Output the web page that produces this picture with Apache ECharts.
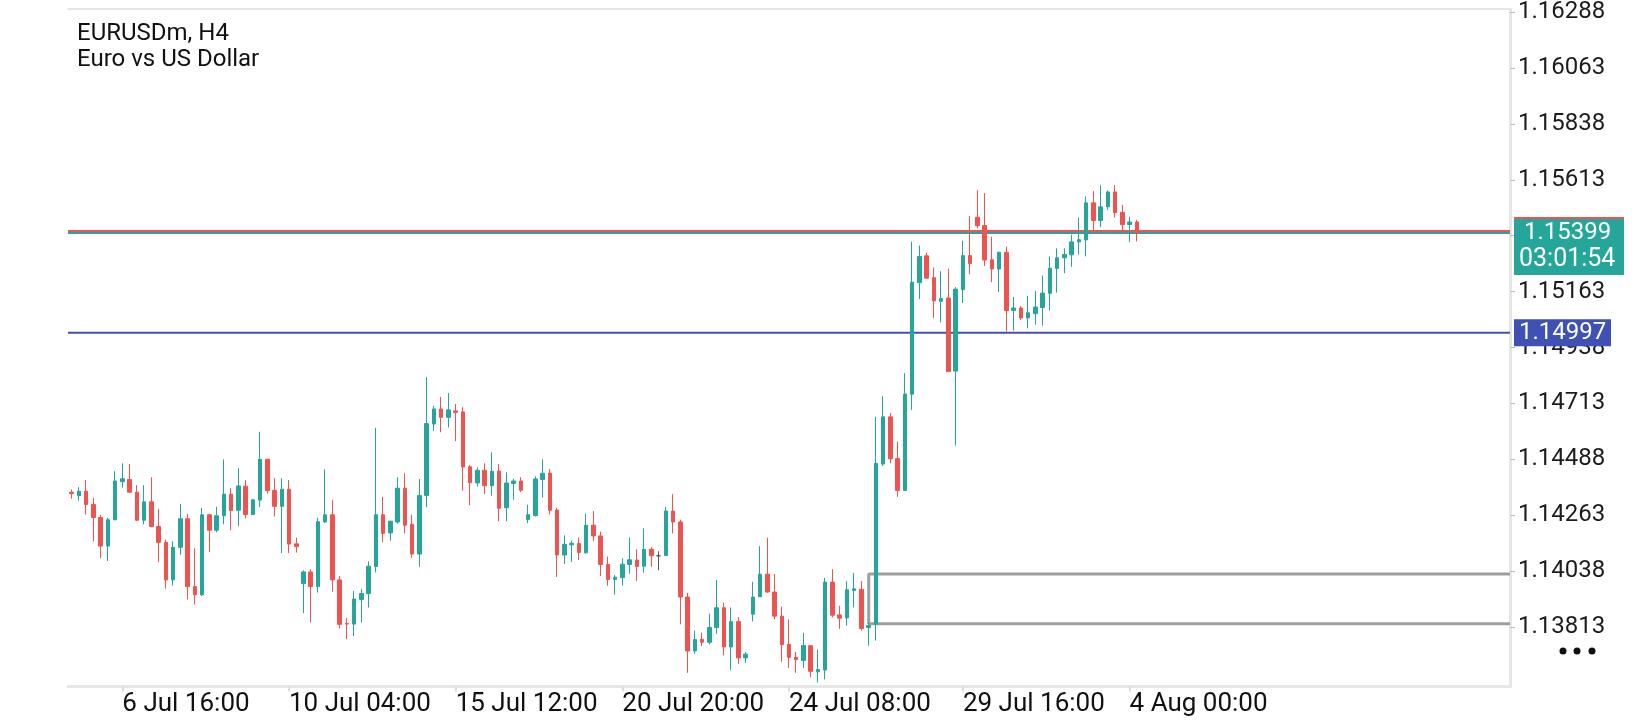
<!DOCTYPE html>
<html>
<head>
<meta charset="utf-8">
<title>EURUSDm, H4</title>
<script src="https://cdn.jsdelivr.net/npm/echarts@6/dist/echarts.min.js"></script>
<style>
  html, body { margin: 0; padding: 0; background: #fff; }
  #main { width: 1640px; height: 720px; }
</style>
</head>
<body>
<div id="main"></div>
<script>
// EURUSDm H4 bars (oldest first)
var opens = [
  1.14356, 1.14342, 1.14360, 1.14306, 1.14254, 1.14139, 1.14245, 1.14398, 1.14407, 1.14356,
  1.14243, 1.14317, 1.14218, 1.14154, 1.14003, 1.14134, 1.14249, 1.13976, 1.13943, 1.14265,
  1.14203, 1.14261, 1.14348, 1.14283, 1.14380, 1.14266, 1.14324, 1.14488, 1.14363, 1.14299,
  1.14368, 1.14148, 1.13988, 1.14035, 1.13976, 1.14236, 1.14265, 1.14003, 1.13828, 1.13825,
  1.13924, 1.13948, 1.14057, 1.14265, 1.14192, 1.14236, 1.14372, 1.14227, 1.14107, 1.14343,
  1.14630, 1.14691, 1.14657, 1.14683, 1.14679, 1.14458, 1.14393, 1.14444, 1.14382, 1.14441,
  1.14293, 1.14391, 1.14401, 1.14246, 1.14262, 1.14407, 1.14433, 1.14284, 1.14103, 1.14144,
  1.14150, 1.14112, 1.14223, 1.14180, 1.14065, 1.14005, 1.14012, 1.14065, 1.14083, 1.14058,
  1.14126, 1.14100, 1.14101, 1.14280, 1.14236, 1.13934, 1.13717, 1.13764, 1.13752, 1.13811,
  1.13891, 1.13733, 1.13835, 1.13689, 1.13865, 1.13935, 1.14026, 1.13954, 1.13857, 1.13743,
  1.13691, 1.13679, 1.13738, 1.13633, 1.13640, 1.13994, 1.13862, 1.13850, 1.13960, 1.13965,
  1.13811, 1.13825, 1.14469, 1.14659, 1.14491, 1.14363, 1.14750, 1.15199, 1.15307, 1.15219,
  1.15124, 1.15137, 1.14843, 1.15171, 1.15308, 1.15462, 1.15429, 1.15291, 1.15254, 1.15321,
  1.15087, 1.15097, 1.15057, 1.15074, 1.15099, 1.15156, 1.15256, 1.15299, 1.15311, 1.15363,
  1.15371, 1.15520, 1.15449, 1.15504, 1.15564, 1.15482, 1.15433, 1.15443
];
var highs = [
  1.14367, 1.14376, 1.14405, 1.14333, 1.14265, 1.14253, 1.14440, 1.14472, 1.14469, 1.14384,
  1.14384, 1.14416, 1.14289, 1.14165, 1.14158, 1.14309, 1.14269, 1.14130, 1.14293, 1.14269,
  1.14297, 1.14488, 1.14372, 1.14452, 1.14405, 1.14329, 1.14599, 1.14490, 1.14412, 1.14412,
  1.14405, 1.14173, 1.14042, 1.14045, 1.14253, 1.14448, 1.14325, 1.14018, 1.13850, 1.13959,
  1.13967, 1.14078, 1.14615, 1.14337, 1.14241, 1.14416, 1.14432, 1.14265, 1.14409, 1.14819,
  1.14703, 1.14739, 1.14755, 1.14711, 1.14698, 1.14465, 1.14456, 1.14472, 1.14516, 1.14469,
  1.14436, 1.14410, 1.14416, 1.14305, 1.14420, 1.14488, 1.14449, 1.14293, 1.14182, 1.14161,
  1.14173, 1.14269, 1.14280, 1.14197, 1.14097, 1.14022, 1.14090, 1.14173, 1.14126, 1.14210,
  1.14135, 1.14118, 1.14297, 1.14348, 1.14245, 1.13951, 1.13799, 1.13791, 1.13867, 1.14003,
  1.13912, 1.13892, 1.13854, 1.13713, 1.13995, 1.14139, 1.14173, 1.14027, 1.13896, 1.13844,
  1.13713, 1.13790, 1.13740, 1.13723, 1.14011, 1.14046, 1.13899, 1.13998, 1.14031, 1.13998,
  1.13832, 1.14659, 1.14742, 1.14675, 1.14559, 1.14835, 1.15364, 1.15348, 1.15320, 1.15260,
  1.15245, 1.15256, 1.15181, 1.15368, 1.15467, 1.15571, 1.15559, 1.15384, 1.15323, 1.15344,
  1.15141, 1.15105, 1.15146, 1.15165, 1.15228, 1.15304, 1.15337, 1.15337, 1.15392, 1.15461,
  1.15546, 1.15567, 1.15591, 1.15570, 1.15591, 1.15512, 1.15464, 1.15452
];
var lows = [
  1.14330, 1.14322, 1.14266, 1.14158, 1.14090, 1.14079, 1.14243, 1.14374, 1.14354, 1.14241,
  1.14227, 1.14215, 1.14075, 1.13968, 1.13980, 1.14104, 1.13924, 1.13904, 1.13938, 1.14115,
  1.14194, 1.14227, 1.14203, 1.14219, 1.14250, 1.14264, 1.14295, 1.14350, 1.14258, 1.14111,
  1.14111, 1.14113, 1.13869, 1.13832, 1.13952, 1.14233, 1.13956, 1.13808, 1.13764, 1.13777,
  1.13832, 1.13892, 1.14033, 1.14154, 1.14161, 1.14229, 1.14190, 1.14091, 1.14056, 1.14295,
  1.14603, 1.14597, 1.14616, 1.14561, 1.14362, 1.14303, 1.14378, 1.14348, 1.14342, 1.14239,
  1.14239, 1.14326, 1.14356, 1.14231, 1.14258, 1.14334, 1.14266, 1.14015, 1.14067, 1.14075,
  1.14083, 1.14109, 1.14159, 1.14019, 1.13980, 1.13943, 1.13980, 1.14027, 1.13999, 1.14032,
  1.14056, 1.14042, 1.14099, 1.14190, 1.13824, 1.13629, 1.13705, 1.13737, 1.13744, 1.13786,
  1.13699, 1.13640, 1.13665, 1.13669, 1.13836, 1.13934, 1.13951, 1.13844, 1.13673, 1.13649,
  1.13629, 1.13649, 1.13611, 1.13590, 1.13603, 1.13852, 1.13806, 1.13819, 1.13892, 1.13799,
  1.13738, 1.13759, 1.14461, 1.14472, 1.14337, 1.14362, 1.14687, 1.15133, 1.15213, 1.15057,
  1.15039, 1.14839, 1.14543, 1.15117, 1.15233, 1.15418, 1.15266, 1.15201, 1.15161, 1.15002,
  1.15006, 1.15049, 1.15015, 1.15030, 1.15026, 1.15087, 1.15159, 1.15237, 1.15263, 1.15312,
  1.15305, 1.15406, 1.15422, 1.15491, 1.15461, 1.15411, 1.15363, 1.15365
];
var closes = [
  1.14350, 1.14360, 1.14306, 1.14254, 1.14139, 1.14245, 1.14401, 1.14410, 1.14356, 1.14243,
  1.14317, 1.14218, 1.14154, 1.14003, 1.14134, 1.14249, 1.13976, 1.13943, 1.14265, 1.14203,
  1.14261, 1.14348, 1.14282, 1.14381, 1.14266, 1.14325, 1.14488, 1.14362, 1.14299, 1.14368,
  1.14147, 1.14137, 1.14035, 1.13976, 1.14237, 1.14265, 1.14003, 1.13824, 1.13825, 1.13926,
  1.13948, 1.14058, 1.14265, 1.14190, 1.14239, 1.14372, 1.14223, 1.14107, 1.14343, 1.14632,
  1.14691, 1.14657, 1.14687, 1.14677, 1.14457, 1.14394, 1.14444, 1.14382, 1.14440, 1.14291,
  1.14393, 1.14401, 1.14364, 1.14265, 1.14409, 1.14432, 1.14283, 1.14103, 1.14146, 1.14150,
  1.14113, 1.14223, 1.14180, 1.14065, 1.14005, 1.14014, 1.14066, 1.14084, 1.14057, 1.14126,
  1.14100, 1.14100, 1.14280, 1.14236, 1.13934, 1.13717, 1.13763, 1.13752, 1.13812, 1.13891,
  1.13733, 1.13835, 1.13689, 1.13704, 1.13934, 1.14026, 1.13954, 1.13857, 1.13742, 1.13691,
  1.13682, 1.13739, 1.13635, 1.13642, 1.13994, 1.13861, 1.13849, 1.13963, 1.13967, 1.13807,
  1.13819, 1.14472, 1.14659, 1.14490, 1.14363, 1.14751, 1.15201, 1.15304, 1.15217, 1.15126,
  1.15135, 1.14841, 1.15173, 1.15308, 1.15276, 1.15428, 1.15290, 1.15254, 1.15321, 1.15087,
  1.15097, 1.15057, 1.15078, 1.15101, 1.15157, 1.15257, 1.15299, 1.15312, 1.15363, 1.15372,
  1.15520, 1.15449, 1.15504, 1.15564, 1.15481, 1.15432, 1.15443, 1.15399
];

// time axis: only a few bars carry a label
var tickLabels = ['6 Jul 16:00', '10 Jul 04:00', '15 Jul 12:00', '20 Jul 20:00', '24 Jul 08:00', '29 Jul 16:00', '4 Aug 00:00'];
var tickBars = [7, 30, 53, 76, 99, 123, 146];
var slotCount = 199; // bars that fit in the window, the right part stays empty

// price axis
var yMin = 1.13574, yMax = 1.16300;
var priceTicks = [1.13813, 1.14038, 1.14263, 1.14488, 1.14713, 1.14938, 1.15163, 1.15388, 1.15613, 1.15838, 1.16063, 1.16288];

// levels
var bidPrice = 1.15399;
var askPrice = 1.15407;
var countdown = '03:01:54';
var levelPrice = 1.14997;
var boxTop = 1.14027, boxBottom = 1.13826, boxStartBar = 110;

var GREEN = '#26a69a', RED = '#ef5350', BLUE = '#3f51b5', GRAY = '#9e9e9e', FRAME = '#e6e6e6';
var FONT = 'Roboto';

var chart = echarts.init(document.getElementById('main'));

var slots = [];
for (var i = 0; i < slotCount; i++) slots.push(String(i));
var candles = opens.map(function (o, i) { return [o, closes[i], lows[i], highs[i]]; });
var labelAt = {};
tickBars.forEach(function (b, k) { labelAt[b] = tickLabels[k]; });
function hasLabel(i) { return labelAt[i] !== undefined; }

// bar index axis with the same scale as the category slots (centre of slot i at i)
var firstEdge = -0.5, lastEdge = slotCount - 0.5;

function levelSeries(points, color, width) {
  return {
    type: 'line',
    xAxisIndex: 2,
    data: points,
    symbol: 'none',
    silent: true,
    z: 1,
    lineStyle: { color: color, width: width },
    animation: false
  };
}

var option = {
  animation: false,
  title: {
    text: 'EURUSDm, H4\nEuro vs US Dollar',
    left: 77,
    top: 21,
    padding: 0,
    textStyle: { fontFamily: FONT, fontSize: 24, fontWeight: 'normal', color: '#111', lineHeight: 26 }
  },
  grid: { left: 68, right: 130, top: 2, bottom: 33.5 },
  xAxis: [{
    type: 'category',
    data: slots,
    boundaryGap: true,
    axisLine: { onZero: false, lineStyle: { color: FRAME, width: 3 } },
    axisTick: { show: true, alignWithLabel: true, length: 5, interval: hasLabel, lineStyle: { color: '#dcdcdc', width: 2 } },
    axisLabel: {
      interval: hasLabel,
      formatter: function (v, i) { return labelAt[i] || ''; },
      align: 'left',
      margin: 5,
      fontFamily: FONT,
      fontSize: 26,
      color: '#111'
    },
    splitLine: { show: false }
  }, {
    type: 'category',
    data: slots,
    position: 'top',
    axisLine: { onZero: false, lineStyle: { color: FRAME, width: 2 } },
    axisTick: { show: false },
    axisLabel: { show: false }
  }, {
    type: 'value',
    min: firstEdge,
    max: lastEdge,
    show: false
  }],
  yAxis: {
    type: 'value',
    position: 'right',
    min: yMin,
    max: yMax,
    splitLine: { show: false },
    axisLine: { show: true, onZero: false, lineStyle: { color: FRAME, width: 3 } },
    axisTick: { show: true, length: 5, customValues: priceTicks, lineStyle: { color: '#bdbdbd' } },
    axisLabel: {
      customValues: priceTicks,
      margin: 8,
      formatter: function (v) { return v.toFixed(5); },
      fontFamily: FONT,
      fontSize: 24,
      color: '#1c1c1c'
    }
  },
  series: [
    levelSeries([[firstEdge, levelPrice], [lastEdge, levelPrice]], BLUE, 2),
    levelSeries([[firstEdge, askPrice], [lastEdge, askPrice]], RED, 2),
    levelSeries([[firstEdge, bidPrice], [lastEdge, bidPrice]], GREEN, 2),
    levelSeries([[lastEdge, boxTop], [boxStartBar, boxTop], [boxStartBar, boxBottom], [lastEdge, boxBottom]], GRAY, 3),
    {
      type: 'candlestick',
      data: candles,
      barWidth: 4,
      z: 2,
      itemStyle: {
        color: GREEN, color0: RED,
        borderColor: GREEN, borderColor0: RED,
        borderColorDoji: '#555',
        borderWidth: 1
      }
    }
  ]
};
chart.setOption(option);

// price tags on the right side, placed at the axis position of each price
var plotRight = 1640 - 130;
function py(p) { return chart.convertToPixel({ yAxisIndex: 0 }, p); }
var tagX = plotRight + 4;
var tagFont = '24px ' + FONT;
chart.setOption({
  graphic: [
    { type: 'rect', z: 100, shape: { x: tagX, y: py(askPrice) - 14, width: 110, height: 28 }, style: { fill: RED } },
    { type: 'rect', z: 101, shape: { x: tagX, y: py(bidPrice) - 14, width: 110, height: 56 }, style: { fill: GREEN } },
    { type: 'text', z: 102, x: tagX + 10, y: py(bidPrice), style: { text: bidPrice.toFixed(5), font: tagFont, fill: '#fff', verticalAlign: 'middle' } },
    { type: 'text', z: 102, x: tagX + 5, y: py(bidPrice) + 27, style: { text: countdown, font: '25px ' + FONT, fill: '#fff', verticalAlign: 'middle' } },
    { type: 'rect', z: 100, shape: { x: tagX, y: py(levelPrice) - 13.5, width: 97, height: 27 }, style: { fill: BLUE } },
    { type: 'text', z: 102, x: tagX + 5, y: py(levelPrice), style: { text: levelPrice.toFixed(5), font: tagFont, fill: '#fff', verticalAlign: 'middle' } },
    { type: 'circle', z: 100, shape: { cx: 1563, cy: 651, r: 3.5 }, style: { fill: '#111' } },
    { type: 'circle', z: 100, shape: { cx: 1577, cy: 651, r: 3.5 }, style: { fill: '#111' } },
    { type: 'circle', z: 100, shape: { cx: 1592, cy: 651, r: 3.5 }, style: { fill: '#111' } }
  ]
});
</script>
</body>
</html>
